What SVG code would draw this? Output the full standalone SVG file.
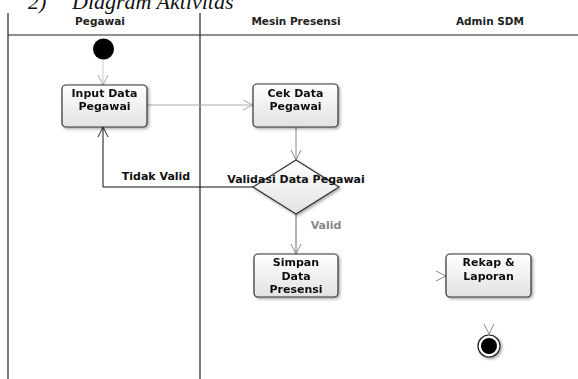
<svg xmlns="http://www.w3.org/2000/svg" width="578" height="379" viewBox="0 0 578 379">
<style>
.lane{stroke:#222;stroke-width:1.2;fill:none}
.hdr{font-family:"DejaVu Sans",sans-serif;font-weight:bold;font-size:10.5px;fill:#222;text-anchor:middle}
.lbl{font-family:"DejaVu Sans",sans-serif;font-weight:bold;font-size:11px;fill:#111;text-anchor:middle}
.box{fill:url(#g);stroke:#333;stroke-width:1.2}
.c{fill:none;stroke-width:1}
</style>
<defs>
<linearGradient id="g" x1="0" y1="0" x2="0" y2="1"><stop offset="0" stop-color="#ffffff"/><stop offset="1" stop-color="#e2e2e2"/></linearGradient>
<filter id="sh" x="-20%" y="-20%" width="150%" height="150%"><feDropShadow dx="1.5" dy="1.5" stdDeviation="1.5" flood-color="#000" flood-opacity="0.35"/></filter>
<marker id="aL" viewBox="0 0 12 12" refX="11" refY="6" markerWidth="12" markerHeight="12" markerUnits="userSpaceOnUse" orient="auto"><path d="M1,1 L11,6 L1,11" fill="none" stroke="#aaa" stroke-width="1"/></marker>
<marker id="aM" viewBox="0 0 12 12" refX="11" refY="6" markerWidth="12" markerHeight="12" markerUnits="userSpaceOnUse" orient="auto"><path d="M1,1 L11,6 L1,11" fill="none" stroke="#888" stroke-width="1"/></marker>
<marker id="aD" viewBox="0 0 12 12" refX="11" refY="6" markerWidth="12" markerHeight="12" markerUnits="userSpaceOnUse" orient="auto"><path d="M1,1 L11,6 L1,11" fill="none" stroke="#222" stroke-width="1"/></marker>
</defs>
<rect width="578" height="379" fill="#fff"/>
<text x="28" y="9" font-family="Liberation Serif,serif" font-style="italic" font-size="22" fill="#111">2)</text>
<text x="72" y="9" font-family="Liberation Serif,serif" font-style="italic" font-size="22" fill="#111">Diagram Aktivitas</text>
<g id="lanes">
<line class="lane" x1="8" y1="13" x2="8" y2="379"/>
<line class="lane" x1="200" y1="13" x2="200" y2="379"/>
<line class="lane" x1="8" y1="35" x2="578" y2="35"/>
<text class="hdr" x="100" y="25">Pegawai</text>
<text class="hdr" x="296" y="25">Mesin Presensi</text>
<text class="hdr" x="490" y="25">Admin SDM</text>
</g>
<g id="connectors">
<line class="c" stroke="#ccc" x1="103" y1="60" x2="103" y2="85" marker-end="url(#aL)"/>
<line class="c" stroke="#aaa" x1="147" y1="105" x2="253" y2="105" marker-end="url(#aL)"/>
<line class="c" stroke="#888" x1="296" y1="127" x2="296" y2="160" marker-end="url(#aM)"/>
<polyline class="c" stroke="#111" stroke-width="1.3" points="253,187 103,187 103,127" marker-end="url(#aD)"/>
<line class="c" stroke="#666" x1="296" y1="214" x2="296" y2="254" marker-end="url(#aM)"/>
<line class="c" stroke="none" x1="430" y1="276" x2="446" y2="276" marker-end="url(#aM)"/>
<line class="c" stroke="none" x1="489" y1="318" x2="489" y2="334" marker-end="url(#aM)"/>
<text x="156" y="180" font-family="DejaVu Sans,sans-serif" font-weight="bold" font-size="11" fill="#111" text-anchor="middle">Tidak Valid</text>
<text x="326" y="229" font-family="DejaVu Sans,sans-serif" font-weight="bold" font-size="11" fill="#888" text-anchor="middle">Valid</text>
</g>
<g id="start"><circle cx="103.5" cy="49" r="10.5" fill="#000"/></g>
<g id="input" filter="url(#sh)">
<rect class="box" x="62" y="85" width="85" height="42" rx="4"/>
<text class="lbl" x="104.5" y="97">Input Data</text>
<text class="lbl" x="104.5" y="110">Pegawai</text>
</g>
<g id="cek" filter="url(#sh)">
<rect class="box" x="253" y="84" width="85" height="43" rx="4"/>
<text class="lbl" x="295.5" y="97">Cek Data</text>
<text class="lbl" x="295.5" y="110">Pegawai</text>
</g>
<g id="validasi">
<polygon points="296,160 339,187 296,214 253,187" fill="url(#g)" stroke="#333" stroke-width="1.2" filter="url(#sh)"/>
<text class="lbl" x="296" y="183">Validasi Data Pegawai</text>
</g>
<g id="simpan" filter="url(#sh)">
<rect class="box" x="254" y="254" width="84" height="43" rx="4"/>
<text class="lbl" x="296" y="266">Simpan</text>
<text class="lbl" x="296" y="280">Data</text>
<text class="lbl" x="296" y="293">Presensi</text>
</g>
<g id="rekap" filter="url(#sh)">
<rect class="box" x="446" y="254" width="85" height="43" rx="4"/>
<text class="lbl" x="488.5" y="266">Rekap &amp;</text>
<text class="lbl" x="488.5" y="280">Laporan</text>
</g>
<g id="end" filter="url(#sh)">
<circle cx="489" cy="346" r="11" fill="#fff" stroke="#222" stroke-width="1.2"/>
<circle cx="489" cy="346" r="8" fill="#000"/>
</g>
</svg>
